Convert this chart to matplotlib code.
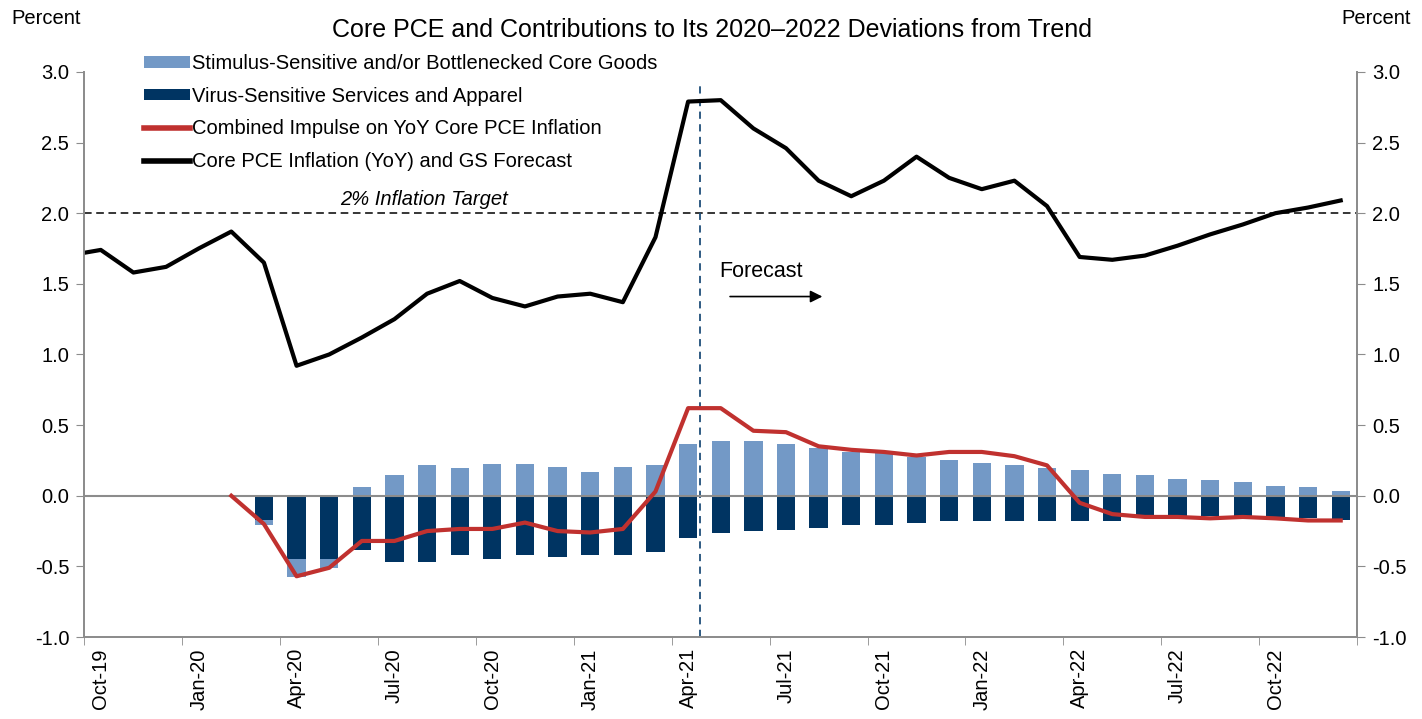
import numpy as np
import matplotlib
matplotlib.use("Agg")
import matplotlib.pyplot as plt
from matplotlib.patches import Patch
from matplotlib.lines import Line2D

plt.rcParams['font.family'] = ['Liberation Sans', 'DejaVu Sans']

nan = np.nan

# monthly categories Oct-19 .. Dec-22
n_months = 39
tick_labels = ["Oct-19", "Jan-20", "Apr-20", "Jul-20", "Oct-20", "Jan-21", "Apr-21",
               "Jul-21", "Oct-21", "Jan-22", "Apr-22", "Jul-22", "Oct-22"]

# core PCE YoY, starts Sep-19 (one month before the first shown category)
core_pce = [1.70, 1.74, 1.58, 1.62, 1.75, 1.87, 1.65, 0.92, 1.00, 1.12, 1.25, 1.43, 1.52,
            1.40, 1.34, 1.41, 1.43, 1.37, 1.83, 2.79, 2.80, 2.60, 2.46, 2.23, 2.12, 2.23,
            2.40, 2.25, 2.17, 2.23, 2.05, 1.69, 1.67, 1.70, 1.77, 1.85, 1.92, 2.00, 2.04, 2.09]

# combined impulse, Oct-19 .. Dec-22
impulse = [nan, nan, nan, nan, 0.0, -0.20, -0.57, -0.51, -0.32, -0.32, -0.25, -0.235,
           -0.235, -0.19, -0.25, -0.26, -0.235, 0.03, 0.62, 0.62, 0.46, 0.45, 0.35, 0.325,
           0.31, 0.285, 0.31, 0.31, 0.28, 0.215, -0.05, -0.13, -0.15, -0.15, -0.16, -0.15,
           -0.16, -0.175, -0.175]

goods = [nan, nan, nan, nan, nan, -0.03, -0.125, -0.06, 0.06, 0.15, 0.215, 0.195, 0.225,
         0.225, 0.205, 0.17, 0.205, 0.215, 0.365, 0.39, 0.39, 0.365, 0.335, 0.31, 0.30,
         0.275, 0.255, 0.23, 0.215, 0.195, 0.185, 0.155, 0.145, 0.12, 0.11, 0.095, 0.07,
         0.06, 0.035]

services = [nan, nan, nan, nan, nan, -0.175, -0.45, -0.45, -0.385, -0.47, -0.47, -0.42,
            -0.445, -0.42, -0.43, -0.42, -0.42, -0.40, -0.30, -0.265, -0.25, -0.24, -0.23,
            -0.21, -0.21, -0.19, -0.18, -0.18, -0.18, -0.18, -0.18, -0.18, -0.16, -0.145,
            -0.145, -0.145, -0.15, -0.155, -0.17]

light_blue = "#7399C6"
navy = "#003462"
red = "#C0312F"
grey = "#8C8C8C"

x = np.arange(n_months)
goods_a = np.array(goods)
serv_a = np.array(services)
# stack negatives downward below services
goods_bottom = np.where((goods_a < 0) & (serv_a < 0), serv_a, 0)

fig = plt.figure(figsize=(14.22, 7.19), dpi=100)
ax = fig.add_axes([0.0594, 0.114, 0.8949, 0.786])

bw = 0.56
ax.bar(x, serv_a, width=bw, color=navy, zorder=2)
ax.bar(x, goods_a, width=bw, bottom=goods_bottom, color=light_blue, zorder=2)
ax.axhline(0, color=grey, lw=1.5, zorder=2.5)

ax.axhline(2.0, color="black", lw=1.1, ls=(0, (5, 3)), zorder=1)
ax.text(9.9, 2.03, "2% Inflation Target", style="italic", fontsize=14.5,
        ha="center", va="bottom")

ax.axvline(18.35, ymin=0, ymax=0.98, color="#1F4E79", lw=1.3, ls=(0, (4, 3)), zorder=1)

ax.plot(x, impulse, color=red, lw=3, zorder=3, solid_joinstyle="round")
ax.plot(np.arange(-1, n_months), core_pce, color="black", lw=3, zorder=3,
        solid_joinstyle="round")

ax.text(18.95, 1.59, "Forecast", fontsize=15.5, ha="left", va="center")
ax.annotate("", xy=(22.2, 1.41), xytext=(19.2, 1.41),
            arrowprops=dict(arrowstyle="-|>", color="black", lw=1.2, mutation_scale=18))

ax.set_xlim(-0.5, n_months - 0.5)
ax.set_ylim(-1.0, 3.0)
ax.set_yticks(np.arange(-1.0, 3.01, 0.5))
ax.yaxis.set_major_formatter(matplotlib.ticker.FormatStrFormatter("%.1f"))
ax.set_xticks(np.arange(0, n_months, 3))
ax.set_xticklabels(tick_labels, rotation=90, fontsize=14.5)
ax.set_xticks(np.arange(-0.5, n_months, 3), minor=True)
ax.tick_params(axis="x", which="major", length=0, pad=8)
ax.tick_params(axis="x", which="minor", length=6, color=grey, direction="out")
ax.tick_params(axis="y", length=6, color=grey, labelsize=14.5, pad=5)

ax2 = ax.twinx()
ax2.set_ylim(-1.0, 3.0)
ax2.set_yticks(np.arange(-1.0, 3.01, 0.5))
ax2.yaxis.set_major_formatter(matplotlib.ticker.FormatStrFormatter("%.1f"))
ax2.tick_params(axis="y", length=6, color=grey, labelsize=14.5, pad=5)

for a in (ax, ax2):
    a.spines["top"].set_visible(False)
    for s in ("left", "right", "bottom"):
        a.spines[s].set_color(grey)
        a.spines[s].set_linewidth(1.3)

fig.text(0.008, 0.974, "Percent", fontsize=14.5, ha="left", va="center")
fig.text(0.992, 0.974, "Percent", fontsize=14.5, ha="right", va="center")
fig.text(0.501, 0.958, "Core PCE and Contributions to Its 2020\u20132022 Deviations from Trend",
         fontsize=18, ha="center", va="center")

handles = [Patch(facecolor=light_blue), Patch(facecolor=navy),
           Line2D([], [], color=red, lw=4), Line2D([], [], color="black", lw=4)]
labels = ["Stimulus-Sensitive and/or Bottlenecked Core Goods",
          "Virus-Sensitive Services and Apparel",
          "Combined Impulse on YoY Core PCE Inflation",
          "Core PCE Inflation (YoY) and GS Forecast"]
fig.legend(handles, labels, loc="upper left", bbox_to_anchor=(0.101, 0.925),
           frameon=False, fontsize=14.5, handlelength=2.3, handleheight=0.5,
           handletextpad=0.1, labelspacing=0.68, borderpad=0, borderaxespad=0)

fig.savefig("out.png", dpi=100)
